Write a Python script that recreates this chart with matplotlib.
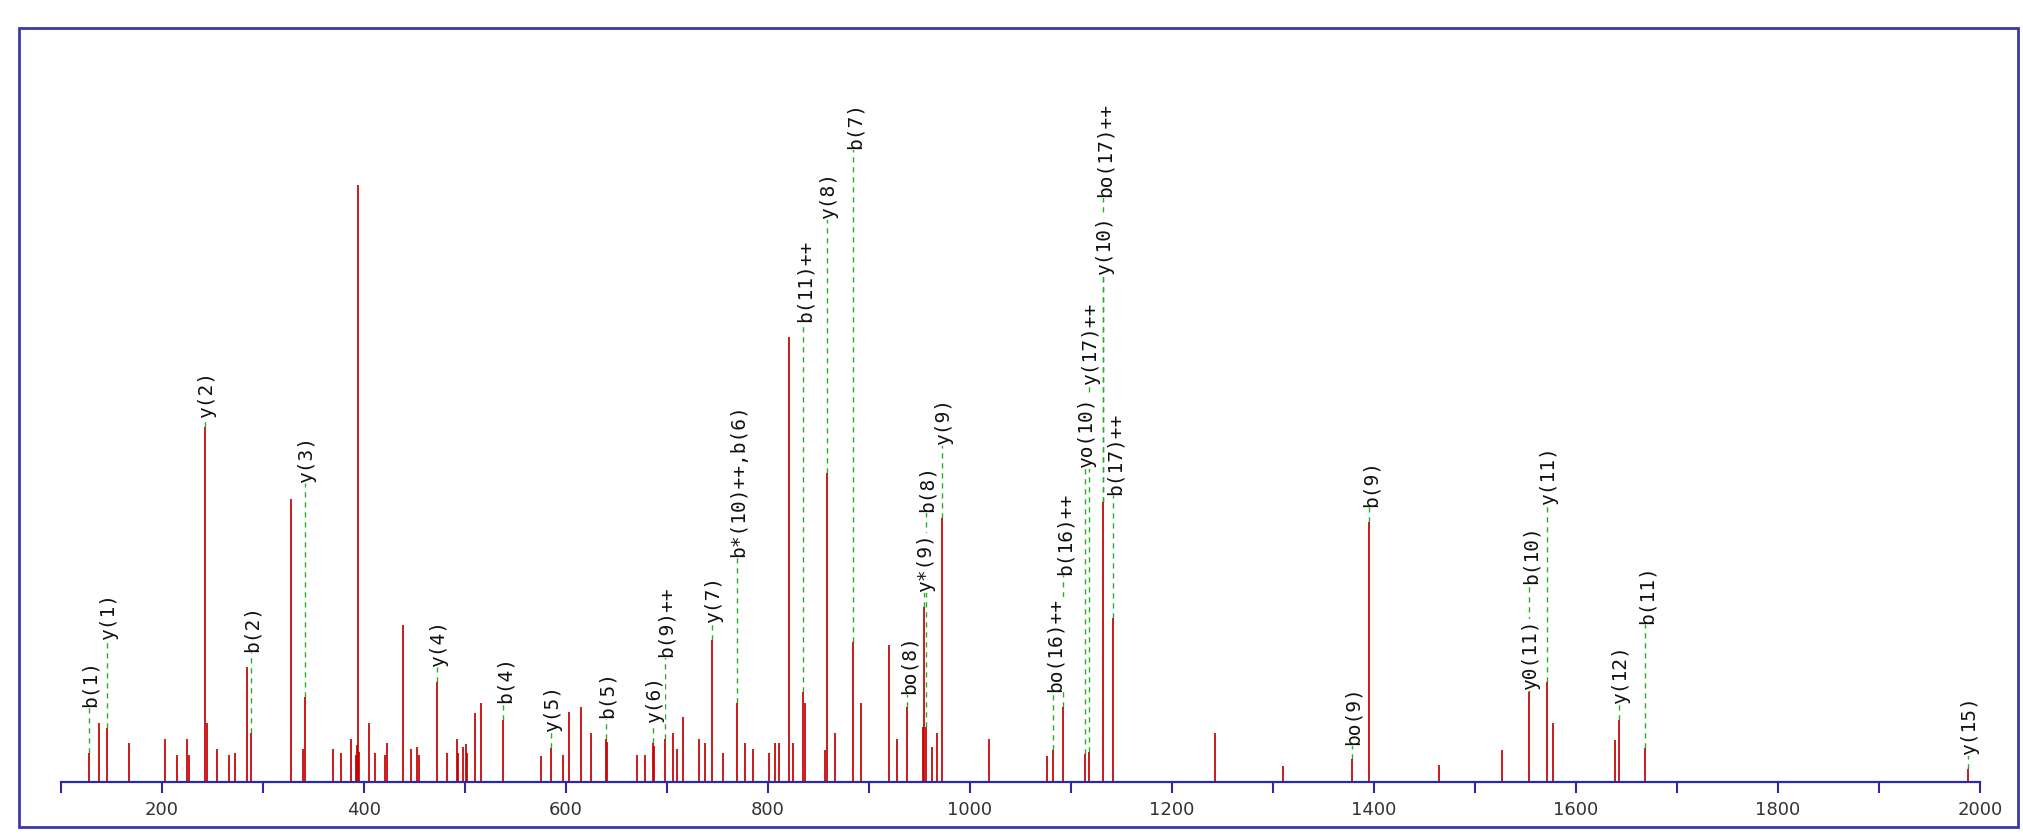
import numpy as np
import matplotlib
matplotlib.use('Agg')
import matplotlib.pyplot as plt
import matplotlib.patches as patches
import matplotlib.transforms as mtrans

# peak list (m/z, relative intensity %)
peak_mz = [127.7, 137.6, 145.2, 167.3, 203.0, 214.5, 224.4, 226.4, 242.9, 244.3, 254.0, 266.3, 272.3,
           283.8, 288.0, 327.7, 340.0, 341.6, 369.0, 377.2, 386.8, 392.5, 393.5, 394.4, 395.5, 405.3, 411.0,
           420.8, 422.5, 438.3, 446.2, 452.1, 454.5, 472.6, 481.9, 492.4, 493.4, 498.3, 500.7, 502.3,
           510.2, 516.2, 537.9, 575.2, 585.1, 596.7, 603.3, 614.9, 624.4, 639.3, 640.3, 670.6, 678.5,
           686.4, 687.4, 698.0, 706.2, 710.2, 716.1, 732.0,
           737.6, 744.2, 755.0, 769.3, 777.5, 785.4, 801.0, 806.9, 810.9, 820.8, 825.0, 835.0, 836.5,
           856.8, 858.1, 866.3, 884.5, 892.4, 920.1, 928.0, 937.9, 953.3, 954.7, 956.5, 962.0, 967.6,
           971.9, 1019.0,
           1076.6, 1082.5, 1092.4, 1114.2, 1118.1, 1132.0, 1141.9, 1242.6, 1310.2,
           1377.9, 1395.3, 1464.7, 1526.4, 1553.8, 1571.6, 1577.5, 1638.9, 1642.9, 1668.6, 1987.7]
peak_int = [4.9, 9.9, 9.0, 6.5, 7.2, 4.5, 7.2, 4.5, 59.5, 9.9, 5.5, 4.5, 4.9,
            19.3, 8.2, 47.4, 5.5, 14.2, 5.5, 4.9, 7.2, 4.5, 6.2, 100.0, 5.0, 9.9, 4.9,
            4.5, 6.5, 26.3, 5.5, 5.9, 4.5, 16.8, 4.9, 7.2, 4.9, 5.9, 6.4, 4.9,
            11.6, 13.2, 10.4, 4.4, 5.7, 4.5, 11.7, 12.6, 8.2, 7.2, 6.7, 4.5, 4.5,
            6.5, 6.0, 7.2, 8.2, 5.5, 10.9, 7.2,
            6.5, 23.8, 4.9, 13.2, 6.5, 5.5, 4.9, 6.5, 6.5, 74.5, 6.5, 15.1, 13.2,
            5.4, 51.8, 8.2, 23.5, 13.2, 22.9, 7.2, 12.6, 9.2, 29.3, 9.2, 5.9, 8.2,
            44.2, 7.2,
            4.4, 5.4, 12.6, 4.7, 5.0, 46.9, 27.5, 8.2, 2.7,
            3.9, 43.6, 2.8, 5.4, 15.1, 16.8, 9.9, 7.0, 10.4, 5.7, 2.2]

# fragment annotations: label, m/z of the marker line, height of the label foot
ann_label = ['b(1)', 'y(1)', 'y(2)', 'b(2)', 'y(3)', 'y(4)', 'b(4)', 'y(5)', 'b(5)', 'y(6)',
             'b(9)++', 'y(7)', 'b*(10)++,b(6)', 'b(11)++', 'y(8)', 'b(7)', 'bo(8)', 'y*(9)', 'b(8)',
             'y(9)', 'bo(16)++', 'b(16)++', 'yo(10)', 'y(17)++', 'y(10)', 'bo(17)++', 'b(17)++',
             'bo(9)', 'b(9)', 'y0(11)', 'b(10)', 'y(11)', 'y(12)', 'b(11)', 'y(15)']
ann_mz = [127.7, 145.2, 242.9, 288.0, 341.6, 472.6, 537.9, 585.1, 639.3, 686.4,
          698.0, 744.2, 769.3, 835.0, 858.1, 884.5, 937.9, 954.7, 956.5,
          971.9, 1082.5, 1092.4, 1114.2, 1118.1, 1132.0, 1132.0, 1141.9,
          1377.9, 1395.3, 1553.8, 1553.8, 1571.6, 1642.9, 1668.6, 1987.7]
ann_level = [12.6, 23.8, 61.0, 21.8, 50.1, 19.3, 13.2, 8.4, 10.7, 9.9,
             20.9, 26.6, 37.7, 77.1, 94.3, 106.0, 14.7, 31.8, 45.2,
             56.4, 15.1, 34.7, 52.6, 66.5, 84.9, 98.0, 48.1,
             6.2, 46.1, 15.4, 33.2, 46.4, 13.1, 26.5, 4.5]

W, H = 2023, 839
fig = plt.figure(figsize=(W / 100, H / 100), dpi=100)
fig.patch.set_facecolor('white')

# blue outer frame
frame = patches.Rectangle((19 / W, 12 / H), 1999 / W, 799 / H, transform=fig.transFigure,
                          fill=False, edgecolor='#3a3aa8', linewidth=2.0)
fig.patches.append(frame)

ax = fig.add_axes([61 / W, 57 / H, 1919 / W, 754 / H])
ax.set_facecolor('none')
ax.set_xlim(100, 2000)
ax.set_ylim(0, 754 / 5.97)

ax.vlines(peak_mz, 0, peak_int, color='#c40000', linewidth=1.25)

mz_arr = np.array(peak_mz)
int_arr = np.array(peak_int)
txt_shift = mtrans.offset_copy(ax.transData, fig=fig, x=1.5, y=0, units='dots')
for lab, x, lev in zip(ann_label, ann_mz, ann_level):
    top = int_arr[np.argmin(np.abs(mz_arr - x))]
    ax.plot([x, x], [top, lev], color='#28b028', linewidth=1.0,
            linestyle=(0, (3.8, 3.4)), zorder=1)
    ax.text(x, lev, lab, transform=txt_shift, rotation=90, ha='center', va='bottom',
            fontsize=14, family='DejaVu Sans Mono', color='#111111', zorder=3,
            bbox=dict(facecolor='white', edgecolor='none', pad=0.4))

for s in ['left', 'right', 'top']:
    ax.spines[s].set_visible(False)
ax.spines['bottom'].set_color('#2a2aa8')
ax.spines['bottom'].set_linewidth(1.6)
ax.set_yticks([])
ax.set_xticks(np.arange(100, 2001, 100))
ax.set_xticklabels([str(t) if t % 200 == 0 else '' for t in range(100, 2001, 100)])
ax.tick_params(axis='x', direction='out', length=8, width=1.5, color='#2a2aa8',
               labelsize=13, labelcolor='#333333', pad=6)

fig.savefig('out.png', dpi=100, facecolor='white')
